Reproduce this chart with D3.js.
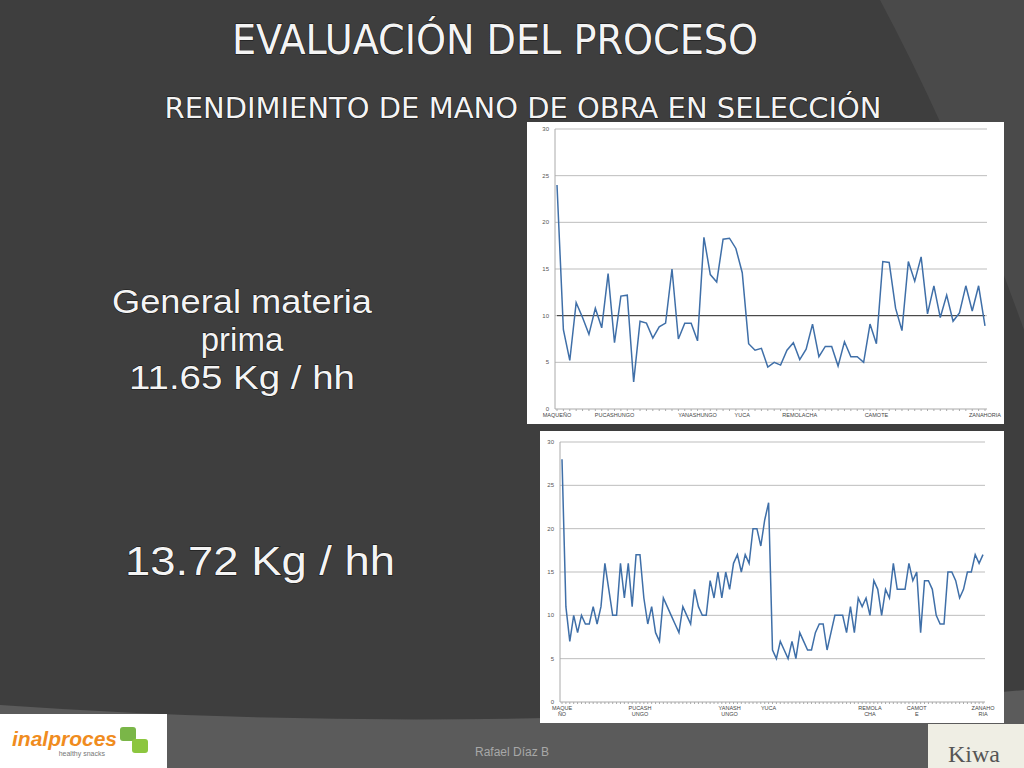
<!DOCTYPE html>
<html>
<head>
<meta charset="utf-8">
<script src="https://cdn.jsdelivr.net/npm/d3@7"></script>
<style>
  body { margin: 0; background: #3e3e3e; }
  svg { display: block; }
</style>
</head>
<body>
<svg width="1024" height="768"></svg>
<script>
/* data: top chart (general materia prima) */
var topValues = [24,8.5,5.2,11.4,9.8,8.0,10.8,8.7,14.5,7.1,12.1,12.2,2.9,9.4,9.2,7.6,8.8,9.2,15.0,7.5,
  9.2,9.2,7.3,18.4,14.4,13.6,18.2,18.3,17.2,14.6,7.0,6.3,6.5,4.5,5.0,4.7,6.3,7.1,5.3,6.4,
  9.1,5.6,6.7,6.7,4.6,7.2,5.6,5.6,5.0,9.1,7.0,15.8,15.7,10.8,8.4,15.8,13.7,16.3,10.2,13.2,
  9.8,12.2,9.4,10.3,13.2,10.5,13.2,8.9]
var topMean = 10
var topLabels = [[0,"MAQUEÑO"],[9,"PUCASHUNGO"],[22,"YANASHUNGO"],[29,"YUCA"],[38,"REMOLACHA"],[50,"CAMOTE"],[67,"ZANAHORIA"]]

/* data: bottom chart */
var botValues = [28,11,7,10,8,10,9,9,11,9, 11,16,13,10,10,16,12,16,11,17,
  17,12,9,11,8,7,12,11,10,9, 8,11,10,9,13,11,10,10,14,12,
  15,12,15,13,16,17,15,17,16,20, 20,18,21,23,6,5,7,6,5,7,
  5,8,7,6,6,8,9,9,6,8, 10,10,10,8,11,8,12,11,12,10,
  14,13,10,13,12,16,13,13,13,16, 14,15,8,14,14,13,10,9,9,15,
  15,14,12,13,15,15,17,16,17]
var botLabels = [[0,"MAQUE","ÑO"],[20,"PUCASH","UNGO"],[43,"YANASH","UNGO"],[53,"YUCA",""],[79,"REMOLA","CHA"],[91,"CAMOT","E"],[108,"ZANAHO","RIA"]]

var yTicks = [0,5,10,15,20,25,30]

var svg = d3.select("svg")

/* background */
svg.append("rect").attr("width",1024).attr("height",768).attr("fill","#3e3e3e")
svg.append("path").attr("d","M0,705 Q500,740 1024,690 L1024,768 L0,768 Z").attr("fill","#5b5b5b")
svg.append("path").attr("d","M880,0 L1024,0 L1024,330 Q960,150 880,0 Z").attr("fill","#4a4a4a")

function text(x,y,s,size,len,opts) {
  opts = opts || {}
  var t = svg.append("text").attr("x",x).attr("y",y).text(s)
    .attr("text-anchor","middle")
    .attr("font-family",opts.font || "'DejaVu Sans Condensed', 'DejaVu Sans', sans-serif")
    .attr("font-size",size)
    .attr("fill",opts.fill || "#f4f4f4")
    .attr("stroke",opts.stroke || "#111").attr("stroke-width",opts.sw == null ? 1 : opts.sw)
    .attr("paint-order","stroke")
  if (len) t.attr("textLength",len).attr("lengthAdjust","spacingAndGlyphs")
  return t
}

text(495,54,"EVALUACIÓN DEL PROCESO",40,526)
text(523,118,"RENDIMIENTO DE MANO DE OBRA EN SELECCIÓN",28,717)
var big = "'Liberation Sans', Arial, sans-serif"
text(242,313,"General materia",33,260,{font:big})
text(242,351,"prima",33,null,{font:big})
text(242,389,"11.65 Kg / hh",33,226,{font:big})
text(260,575,"13.72 Kg / hh",40,270,{font:big})

function drawChart(box, plot, values, labels, mean) {
  svg.append("rect").attr("x",box[0]).attr("y",box[1]).attr("width",box[2]).attr("height",box[3])
    .attr("fill","#fff")
  var g = svg.append("g")
  var x = d3.scaleLinear().domain([0,values.length-1]).range([plot[0]+2,plot[1]-2])
  var y = d3.scaleLinear().domain([0,30]).range([plot[3],plot[2]])

  yTicks.forEach(function(t){
    g.append("line").attr("x1",plot[0]).attr("x2",plot[1]).attr("y1",y(t)).attr("y2",y(t))
      .attr("stroke",t===0 ? "#aaa" : "#bdbdbd").attr("stroke-width",1)
    g.append("text").attr("x",plot[0]-6).attr("y",y(t)+2).text(t)
      .attr("text-anchor","end").attr("font-size",6).attr("font-family","'Liberation Sans', sans-serif").attr("fill","#555")
  })
  g.append("line").attr("x1",plot[0]).attr("x2",plot[0]).attr("y1",plot[2]).attr("y2",plot[3]).attr("stroke","#aaa")
  values.forEach(function(v,i){
    g.append("line").attr("x1",x(i)).attr("x2",x(i)).attr("y1",plot[3]).attr("y2",plot[3]+2).attr("stroke","#aaa")
  })
  labels.forEach(function(l){
    g.append("text").attr("x",x(l[0])).attr("y",plot[3]+8).text(l[1])
      .attr("text-anchor","middle").attr("font-size",5.5).attr("font-family","'Liberation Sans', sans-serif").attr("fill","#444")
    if (l[2]) g.append("text").attr("x",x(l[0])).attr("y",plot[3]+14).text(l[2])
      .attr("text-anchor","middle").attr("font-size",5.5).attr("font-family","'Liberation Sans', sans-serif").attr("fill","#444")
  })
  if (mean != null) {
    g.append("line").attr("x1",x(0)).attr("x2",x(values.length-1)).attr("y1",y(mean)).attr("y2",y(mean))
      .attr("stroke","#333").attr("stroke-width",1)
  }
  g.append("path").datum(values)
    .attr("d",d3.line().x(function(d,i){return x(i)}).y(function(d){return y(d)}))
    .attr("fill","none").attr("stroke","#3f6fa8").attr("stroke-width",1.5)
}

drawChart([527,122,477,302],[555,987,129,409],topValues,topLabels,topMean)
drawChart([540,431,464,292],[560,985,442,702],botValues,botLabels,null)

/* footer */
svg.append("rect").attr("x",0).attr("y",714).attr("width",167).attr("height",54).attr("fill","#fff")
svg.append("text").attr("x",12).attr("y",746).text("inalproces").attr("font-family","'Liberation Sans', sans-serif")
  .attr("font-size",21).attr("font-weight","bold").attr("font-style","italic").attr("fill","#f08c1e")
svg.append("text").attr("x",105).attr("y",756).text("healthy snacks").attr("text-anchor","end")
  .attr("font-family","'Liberation Sans', sans-serif").attr("font-size",7).attr("fill","#777")
svg.append("rect").attr("x",120).attr("y",727).attr("width",16).attr("height",14).attr("rx",3).attr("fill","#7ab648")
svg.append("rect").attr("x",132).attr("y",739).attr("width",16).attr("height",14).attr("rx",3).attr("fill","#8cc63f")
text(512,756,"Rafael Díaz B",12,null,{font:"'Liberation Sans', sans-serif",fill:"#a8a8a8",sw:0})
svg.append("rect").attr("x",928).attr("y",724).attr("width",96).attr("height",44).attr("fill","#efeee4")
svg.append("text").attr("x",974).attr("y",762).text("Kiwa").attr("text-anchor","middle")
  .attr("font-family","'Liberation Serif', serif").attr("font-size",24).attr("fill","#555")
</script>
</body>
</html>
